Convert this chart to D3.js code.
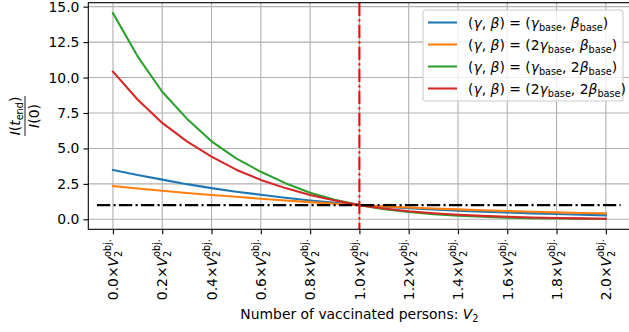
<!DOCTYPE html>
<html>
<head>
<meta charset="utf-8">
<script src="https://cdn.jsdelivr.net/npm/d3@7"></script>
<style>
  body { margin: 0; background: #fff; }
  svg { display: block; font-family: 'DejaVu Sans', sans-serif; }
</style>
</head>
<body>
<div id="chart"></div>
<script>
// fraction of vaccinated persons (times V2^obj.)
var vacc = [0.0, 0.1, 0.2, 0.3, 0.4, 0.5, 0.6, 0.7, 0.8, 0.9, 1.0,
            1.1, 1.2, 1.3, 1.4, 1.5, 1.6, 1.7, 1.8, 1.9, 2.0];
// I(t_end)/I(0) for each parameter set
var baseBase = [3.48, 3.12, 2.80, 2.48, 2.20, 1.95, 1.73, 1.52, 1.33, 1.16, 1.0,
                0.88, 0.78, 0.69, 0.61, 0.54, 0.48, 0.42, 0.37, 0.32, 0.28];
var dblGamma = [2.35, 2.17, 2.01, 1.86, 1.72, 1.59, 1.45, 1.33, 1.21, 1.10, 1.0,
                0.91, 0.83, 0.76, 0.70, 0.64, 0.58, 0.53, 0.49, 0.45, 0.42];
var dblBeta = [14.55, 11.5, 9.0, 7.1, 5.5, 4.3, 3.35, 2.55, 1.88, 1.38, 1.0,
               0.72, 0.51, 0.36, 0.25, 0.18, 0.12, 0.08, 0.055, 0.035, 0.02];
var dblBoth = [10.42, 8.45, 6.8, 5.5, 4.42, 3.5, 2.78, 2.2, 1.72, 1.32, 1.0,
               0.76, 0.57, 0.43, 0.32, 0.24, 0.18, 0.13, 0.09, 0.065, 0.045];
var seriesColors = ['#1f77b4', '#ff7f0e', '#2ca02c', '#d62728'];
// legend: [gamma factor, beta factor]
var legendParts = [['', ''], ['2', ''], ['', '2'], ['2', '2']];

var xTicks = [0.0, 0.2, 0.4, 0.6, 0.8, 1.0, 1.2, 1.4, 1.6, 1.8, 2.0];
var yTicks = [0.0, 2.5, 5.0, 7.5, 10.0, 12.5, 15.0];
var refLineX = [-0.065, 2.06];   // horizontal dash-dot at 1
var refLineY = 1.0;
var objLineX = 1.0;              // vertical red dash-dot

var W = 629, H = 332;
var fs = 13.9, fsSmall = 9.7;

var svg = d3.select('#chart').append('svg').attr('width', W).attr('height', H);

var x = d3.scaleLinear().domain([-0.1, 2.1]).range([88.3, 630.5]);
var y = d3.scaleLinear().domain([-0.705, 15.28]).range([229.3, 2.7]);

//grid
svg.append('g').selectAll('line').data(xTicks).enter().append('line')
  .attr('x1', function (d) { return x(d); }).attr('x2', function (d) { return x(d); })
  .attr('y1', y.range()[0]).attr('y2', y.range()[1])
  .attr('stroke', '#b0b0b0').attr('stroke-width', 1.1);
svg.append('g').selectAll('line').data(yTicks).enter().append('line')
  .attr('y1', function (d) { return y(d); }).attr('y2', function (d) { return y(d); })
  .attr('x1', x.range()[0]).attr('x2', x.range()[1])
  .attr('stroke', '#b0b0b0').attr('stroke-width', 1.1);

//curves
var line = d3.line()
  .x(function (d, i) { return x(vacc[i]); })
  .y(function (d) { return y(d); });
var allSeries = [baseBase, dblGamma, dblBeta, dblBoth];
allSeries.forEach(function (s, i) {
  svg.append('path').datum(s).attr('d', line)
    .attr('fill', 'none').attr('stroke', seriesColors[i])
    .attr('stroke-width', 2.08).attr('stroke-linejoin', 'round').attr('stroke-linecap', 'square');
});

//reference lines
var dashDot = '13.3,3.3,2.1,3.3';
svg.append('line')
  .attr('x1', x(refLineX[0])).attr('x2', x(refLineX[1]))
  .attr('y1', y(refLineY)).attr('y2', y(refLineY))
  .attr('stroke', '#000').attr('stroke-width', 2.08).attr('stroke-dasharray', dashDot);
svg.append('line')
  .attr('x1', x(objLineX)).attr('x2', x(objLineX))
  .attr('y1', y.range()[1]).attr('y2', y.range()[0])
  .attr('stroke', '#ff0000').attr('stroke-width', 2.08).attr('stroke-dasharray', dashDot);

//axes
var yAxis = d3.axisLeft(y).tickValues(yTicks).tickFormat(d3.format('.1f')).tickSize(4.9).tickPadding(4);
var gy = svg.append('g').attr('transform', 'translate(' + x.range()[0] + ',0)').call(yAxis);
gy.selectAll('text').attr('font-size', fs).attr('font-family', 'DejaVu Sans').attr('fill', '#000');
gy.selectAll('line').attr('stroke-width', 1.1);
gy.select('.domain').remove();

var xAxis = d3.axisBottom(x).tickValues(xTicks).tickFormat('').tickSize(4.9);
var gx = svg.append('g').attr('transform', 'translate(0,' + y.range()[0] + ')').call(xAxis);
gx.selectAll('line').attr('stroke-width', 1.1);
gx.select('.domain').remove();

//spines
svg.append('rect')
  .attr('x', x.range()[0]).attr('y', y.range()[1])
  .attr('width', x.range()[1] - x.range()[0]).attr('height', y.range()[0] - y.range()[1])
  .attr('fill', 'none').attr('stroke', '#000').attr('stroke-width', 1.1);

//rotated x tick labels  k x V_2^obj.
var labelTop = y.range()[0] + 4.9 + 4.9;
xTicks.forEach(function (v) {
  var g = svg.append('g');
  var t = g.append('text').attr('font-size', fs).attr('fill', '#000');
  t.append('tspan').text(v.toFixed(1) + '\u00d7');
  t.append('tspan').attr('font-style', 'italic').text('V');
  t.append('tspan').attr('font-size', fsSmall).attr('dy', 3.5).text('2');
  t.append('tspan').attr('font-size', fsSmall).attr('dx', -6.2).attr('dy', -10.5).text('obj.');
  var b = t.node().getBBox();
  g.attr('transform', 'translate(' + x(v) + ',' + labelTop + ') rotate(-90) translate(' +
    (-(b.x + b.width)) + ',' + (-(b.y + b.height / 2)) + ')');
});

//x label
var xl = svg.append('text').attr('x', (x.range()[0] + x.range()[1]) / 2).attr('y', 319)
  .attr('text-anchor', 'middle').attr('font-size', fs);
xl.append('tspan').text('Number of vaccinated persons: ');
xl.append('tspan').attr('font-style', 'italic').text('V');
xl.append('tspan').attr('font-size', fsSmall).attr('dy', 3).text('2');

//y label as a fraction I(t_end)/I(0)
var yl = svg.append('g').attr('transform', 'translate(25,' + ((y.range()[0] + y.range()[1]) / 2) + ') rotate(-90)');
var num = yl.append('text').attr('text-anchor', 'middle').attr('y', -5).attr('font-size', fs);
num.append('tspan').attr('font-style', 'italic').text('I');
num.append('tspan').text('(');
num.append('tspan').attr('font-style', 'italic').text('t');
num.append('tspan').attr('font-size', fsSmall).attr('dy', 3).text('end');
num.append('tspan').attr('dy', -3).text(')');
yl.append('line').attr('x1', -20).attr('x2', 20).attr('y1', 0).attr('y2', 0)
  .attr('stroke', '#000').attr('stroke-width', 0.9);
var den = yl.append('text').attr('text-anchor', 'middle').attr('y', 13.5).attr('font-size', fs);
den.append('tspan').attr('font-style', 'italic').text('I');
den.append('tspan').text('(0)');

//legend
var leg = svg.append('g').attr('transform', 'translate(423,10)');
leg.append('rect').attr('width', 200).attr('height', 91).attr('rx', 2.8)
  .attr('fill', '#fff').attr('fill-opacity', 0.8).attr('stroke', '#cccccc').attr('stroke-width', 1.1);
legendParts.forEach(function (p, i) {
  var cy = 12.5 + i * 22;
  leg.append('line').attr('x1', 5).attr('x2', 34).attr('y1', cy).attr('y2', cy)
    .attr('stroke', seriesColors[i]).attr('stroke-width', 2.08);
  var t = leg.append('text').attr('x', 45).attr('y', cy + 5).attr('font-size', fs);
  t.append('tspan').text('(');
  t.append('tspan').attr('font-style', 'italic').text('\u03b3');
  t.append('tspan').text(', ');
  t.append('tspan').attr('font-style', 'italic').text('\u03b2');
  t.append('tspan').text(') = (' + p[0]);
  t.append('tspan').attr('font-style', 'italic').text('\u03b3');
  t.append('tspan').attr('font-size', fsSmall).attr('dy', 3).text('base');
  t.append('tspan').attr('dy', -3).text(', ' + p[1]);
  t.append('tspan').attr('font-style', 'italic').text('\u03b2');
  t.append('tspan').attr('font-size', fsSmall).attr('dy', 3).text('base');
  t.append('tspan').attr('dy', -3).text(')');
});
</script>
</body>
</html>
